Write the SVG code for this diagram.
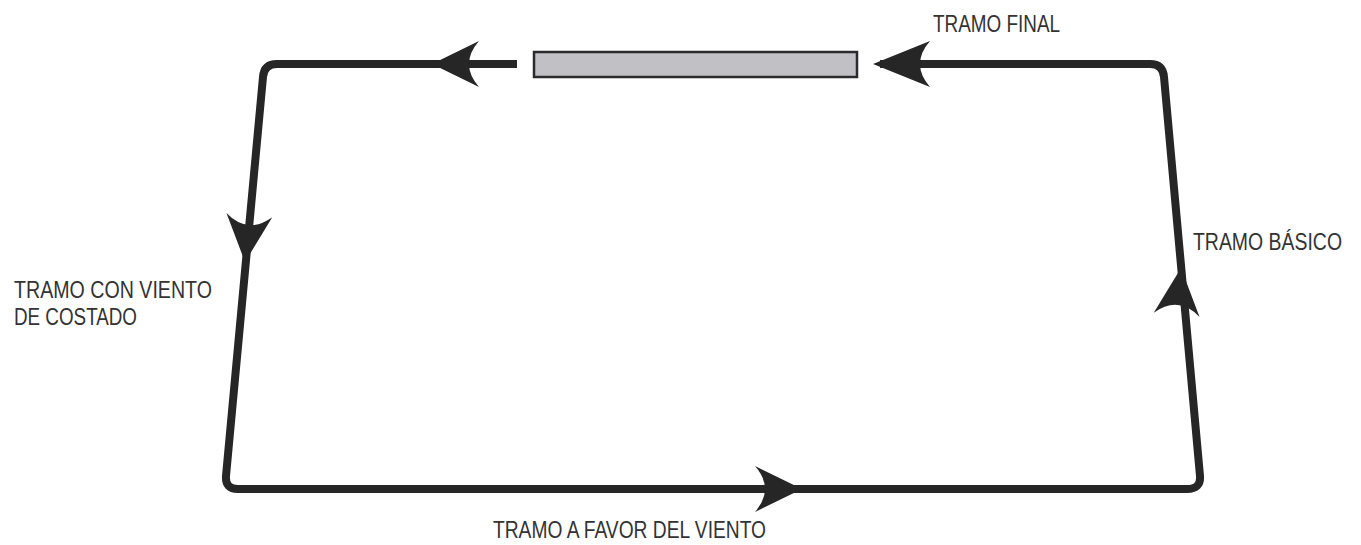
<svg xmlns="http://www.w3.org/2000/svg" width="1361" height="545" viewBox="0 0 1361 545">
<style>
.loop{fill:none;stroke:#262626;stroke-width:8;stroke-linejoin:round;stroke-linecap:butt}
.head{fill:#262626}
.lbl{font-family:"Liberation Sans",Arial,sans-serif;font-size:23px;fill:#333333}
</style>
<defs>
<path id="ah" d="M0,0 L-47,-23 Q-27,0 -47,23 Z"/>
<path id="ahl" d="M0,0 L-57,-23 Q-37,0 -57,23 Z"/>
</defs>
<rect width="1361" height="545" fill="#ffffff"/>
<g id="connectors">
<path class="loop" d="M517,64 H277 Q264,64 263,77 L226,476 Q225,489 238,489 H1187 Q1201,489 1200,476 L1164,77 Q1163,64 1150,64 H880"/>
<use href="#ah" class="head" transform="translate(432,64) rotate(180)"/>
<use href="#ahl" class="head" transform="translate(873,64) rotate(180)"/>
<use href="#ah" class="head" transform="translate(245,262) rotate(95.3)"/>
<use href="#ah" class="head" transform="translate(1181,268) rotate(-84.7)"/>
<use href="#ah" class="head" transform="translate(802,489)"/>
</g>
<g id="runway">
<rect x="534" y="52" width="323" height="25" fill="#c1c0c5" stroke="#2b2b2b" stroke-width="2.5"/>
</g>
<g id="label-final">
<text class="lbl" x="933" y="32" textLength="127" lengthAdjust="spacingAndGlyphs">TRAMO FINAL</text>
</g>
<g id="label-basico">
<text class="lbl" x="1193" y="250" textLength="149" lengthAdjust="spacingAndGlyphs">TRAMO BÁSICO</text>
</g>
<g id="label-costado">
<text class="lbl" x="14" y="298" textLength="198" lengthAdjust="spacingAndGlyphs">TRAMO CON VIENTO</text>
<text class="lbl" x="14" y="325" textLength="123" lengthAdjust="spacingAndGlyphs">DE COSTADO</text>
</g>
<g id="label-favor">
<text class="lbl" x="493" y="538" textLength="273" lengthAdjust="spacingAndGlyphs">TRAMO A FAVOR DEL VIENTO</text>
</g>
</svg>
